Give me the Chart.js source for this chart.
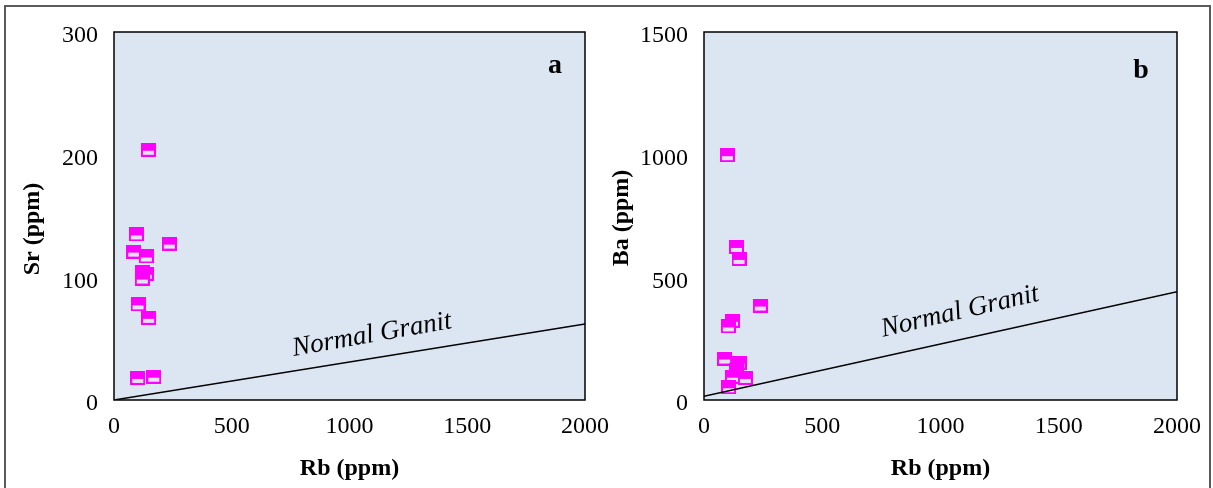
<!DOCTYPE html>
<html><head><meta charset="utf-8">
<script src="https://cdn.jsdelivr.net/npm/chart.js@4.4.1/dist/chart.umd.min.js"></script>
<style>
html,body{margin:0;padding:0;background:#fff;width:1213px;height:488px;overflow:hidden;position:relative}
#frame{position:absolute;left:4px;top:5px;width:1207px;height:500px;border:2px solid #5a5a5a;box-sizing:border-box}
#wa{position:absolute;left:0;top:0;width:630px;height:488px}
#wb{position:absolute;left:600px;top:0;width:613px;height:488px}
canvas{display:block}
</style></head><body>
<div id="frame"></div>
<div id="wa"><canvas id="ca" width="630" height="488"></canvas></div>
<div id="wb"><canvas id="cb" width="613" height="488"></canvas></div>
<script>
// ---- data ----
const rbA = [146, 95, 84, 235, 137, 120, 137, 120, 102, 147, 101, 169];
const srA = [204, 135, 121, 127.5, 117, 104, 103, 99, 78, 67, 18, 19];
const rbB = [99, 137, 148, 238, 120, 103, 87, 148, 138, 120, 175, 104];
const baB = [998, 624, 575, 385, 323, 300, 169, 152, 123, 95, 90, 52];
const granitRb = [0, 2000];
const granitSr = [0, 62];
const granitBa = [15, 441];
const xTicks = [0, 500, 1000, 1500, 2000];
const srTicks = [0, 100, 200, 300];
const baTicks = [0, 500, 1000, 1500];
const granitLabel = 'Normal Granit';

const SERIF = '"Liberation Serif", "Times New Roman", serif';

// marker: magenta square, top half filled, bottom half light
function makeMarker(){
  const c = document.createElement('canvas');
  c.width = 15; c.height = 14;
  const g = c.getContext('2d');
  g.fillStyle = '#FF00FF';
  g.fillRect(0,0,15,14);
  g.fillStyle = '#E6E2F4';
  g.fillRect(2,8,11,4);
  return c;
}
const marker = makeMarker();

const framePlugin = {
  id: 'frame',
  beforeDraw(chart){
    const {ctx, chartArea:a} = chart;
    ctx.save();
    ctx.fillStyle = '#DCE6F2';
    ctx.fillRect(a.left, a.top, a.right-a.left, a.bottom-a.top);
    ctx.restore();
  },
  afterDraw(chart, args, opts){
    const {ctx, chartArea:a, scales} = chart;
    ctx.save();
    ctx.strokeStyle = '#000';
    ctx.lineWidth = 1.5;
    ctx.strokeRect(a.left, a.top, a.right-a.left, a.bottom-a.top);
    ctx.fillStyle = '#000';
    // y axis title
    ctx.save();
    ctx.translate(opts.yTitleX, opts.yTitleY);
    ctx.rotate(-Math.PI/2);
    ctx.font = 'bold 24px ' + SERIF;
    ctx.textAlign = 'center';
    ctx.textBaseline = 'middle';
    ctx.fillText(opts.yTitle, 0, 0);
    ctx.restore();
    // panel letter
    ctx.font = 'bold 28px ' + SERIF;
    ctx.textAlign = 'center';
    ctx.textBaseline = 'alphabetic';
    ctx.fillText(opts.tag, a.right + opts.tagDx, a.top + opts.tagDy);
    // rotated line label
    const px = scales.x.getPixelForValue(opts.noteX);
    const py = scales.y.getPixelForValue(opts.noteY);
    ctx.translate(px, py);
    ctx.rotate(opts.noteAngle * Math.PI / 180);
    ctx.font = 'italic 27px ' + SERIF;
    ctx.textBaseline = 'middle';
    ctx.fillText(granitLabel, 0, 0);
    ctx.restore();
  }
};

function build(id, rb, yv, lineY, yTicks, yMax, yTitle, opt){
  const pts = rb.map((v,i)=>({x:v, y:yv[i]}));
  const line = granitRb.map((v,i)=>({x:v, y:lineY[i]}));
  return new Chart(document.getElementById(id), {
    type: 'scatter',
    data: { datasets: [
      { type:'line', data: line, borderColor:'#000', borderWidth:1.5, pointRadius:0, fill:false, showLine:true, tension:0 },
      { data: pts, pointStyle: marker, pointRadius: 7, pointHoverRadius: 7 }
    ]},
    options: {
      responsive:false, animation:false, devicePixelRatio:1,
      layout: { padding: { left:0, right:opt.padRight, top:32, bottom:0 } },
      plugins: { legend:{display:false}, tooltip:{enabled:false},
        frame: { yTitle:yTitle, yTitleX:opt.yTitleX, yTitleY:opt.yTitleY, tag:opt.tag, tagDx:opt.tagDx, tagDy:opt.tagDy, noteX:opt.noteX, noteY:opt.noteY, noteAngle:opt.noteAngle } },
      scales: {
        x: {
          type:'linear', min:0, max:2000,
          afterBuildTicks(s){ s.ticks = xTicks.map(v=>({value:v})); },
          afterFit(s){ s.height = 88; s.paddingLeft = 0; s.paddingRight = 0; },
          grid:{display:false, drawTicks:false},
          border:{display:false},
          ticks:{ font:{family:SERIF, size:24}, color:'#000', padding:12, maxRotation:0, autoSkip:false, callback:v=>String(v) },
          title:{ display:true, text:'Rb (ppm)', font:{family:SERIF, size:24, weight:'bold'}, color:'#000', padding:{top:0,bottom:5} }
        },
        y: {
          type:'linear', min:0, max:yMax,
          afterBuildTicks(s){ s.ticks = yTicks.map(v=>({value:v})); },
          afterFit(s){ s.width = opt.yWidth; s.paddingTop = 0; s.paddingBottom = 0; },
          grid:{display:false, drawTicks:false},
          border:{display:false},
          ticks:{ font:{family:SERIF, size:24}, color:'#000', padding:16, labelOffset:4, autoSkip:false, callback:v=>String(v) },
          title:{ display:false }
        }
      }
    },
    plugins:[framePlugin]
  });
}

build('ca', rbA, srA, granitSr, srTicks, 300, 'Sr (ppm)',
  {padRight:45, yWidth:114, yTitleX:33, yTitleY:229, tag:'a', tagDx:-30, tagDy:41, noteX:1095, noteY:53, noteAngle:-10});
build('cb', rbB, baB, granitBa, baTicks, 1500, 'Ba (ppm)',
  {padRight:36, yWidth:104, yTitleX:22, yTitleY:218, tag:'b', tagDx:-36, tagDy:46, noteX:1082, noteY:360, noteAngle:-13});
</script>
</body></html>
